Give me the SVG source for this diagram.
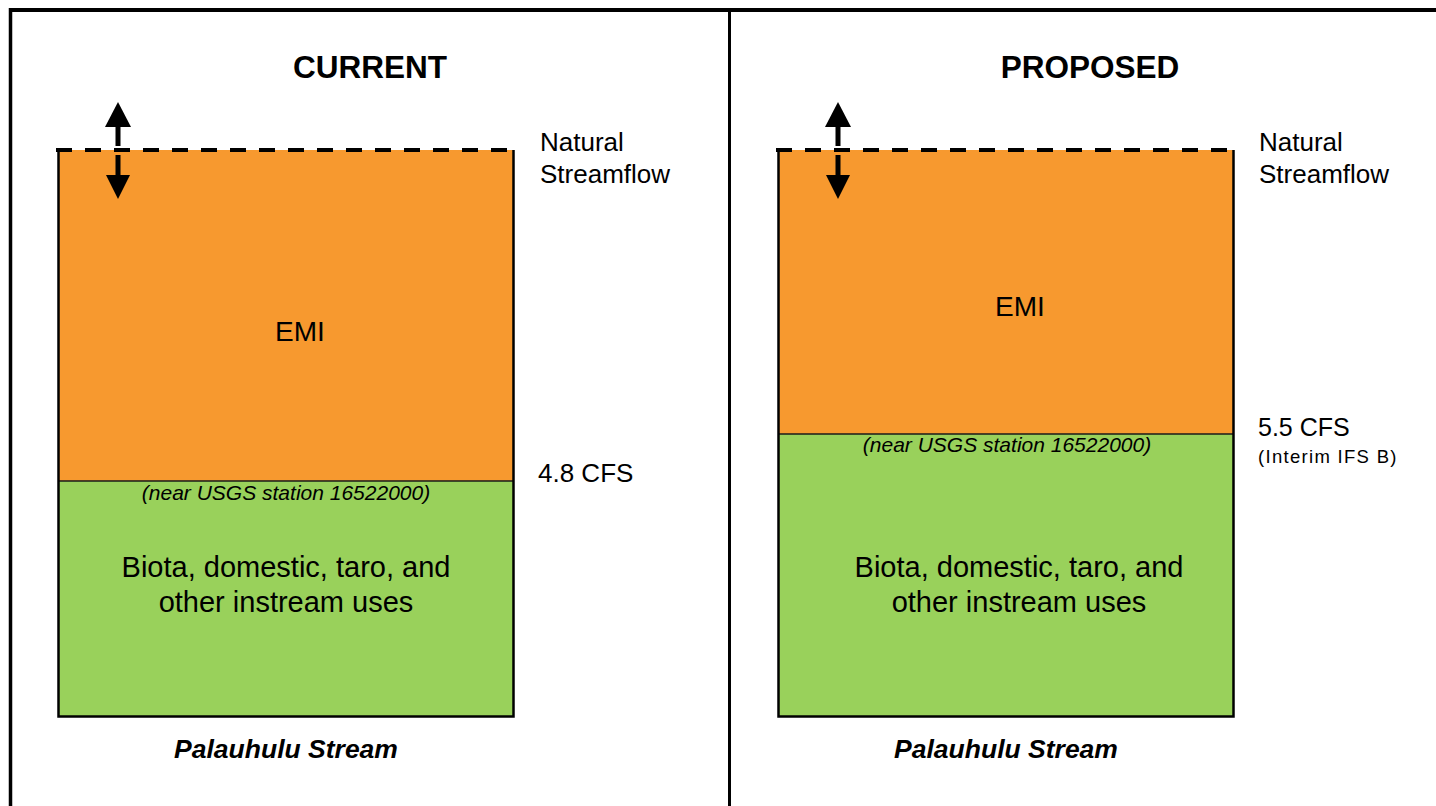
<svg xmlns="http://www.w3.org/2000/svg" width="1436" height="806" viewBox="0 0 1436 806">
<defs>
<style>
text{font-family:"Liberation Sans",Arial,sans-serif;fill:#000}
.title{font-size:31.5px;font-weight:bold;text-anchor:middle}
.lbl{font-size:26px}
.emi{font-size:28px;text-anchor:middle}
.use{font-size:29px;text-anchor:middle}
.near{font-size:21px;font-style:italic;text-anchor:middle}
.small{font-size:18.5px;letter-spacing:1.3px}
.cap{font-size:26.5px;font-weight:bold;font-style:italic;text-anchor:middle}
.orange{fill:#F7992F}
.green{fill:#99D15B}
.edge{fill:none;stroke:#000;stroke-width:2.5}
.split{stroke:#1a1a1a;stroke-width:1.5}
.dash{stroke:#000;stroke-width:4;stroke-dasharray:16 13}
.frame{stroke:#000;fill:none}
</style>
</defs>
<rect width="1436" height="806" fill="#fff"/>
<g id="frame">
<line class="frame" x1="10" y1="10" x2="1436" y2="10" stroke-width="4"/>
<line class="frame" x1="10.5" y1="8" x2="10.5" y2="806" stroke-width="3.5"/>
<line class="frame" x1="729.5" y1="10" x2="729.5" y2="806" stroke-width="3"/>
</g>
<g id="current-panel">
<text class="title" x="370" y="78">CURRENT</text>
<rect class="orange" x="58" y="150" width="456" height="331"/>
<rect class="green" x="58" y="481" width="456" height="236"/>
<line class="split" x1="58" y1="481" x2="514" y2="481"/>
<path class="edge" d="M58.5 150V716.5H513.5V150"/>
<line class="dash" x1="56" y1="150" x2="516" y2="150"/>
<text class="emi" x="300" y="341">EMI</text>
<text class="near" x="286" y="500">(near USGS station 16522000)</text>
<text class="use" x="286" y="577">Biota, domestic, taro, and</text>
<text class="use" x="286" y="612">other instream uses</text>
<text class="lbl" x="540" y="151">Natural</text>
<text class="lbl" x="540" y="183">Streamflow</text>
<text class="lbl" x="538" y="482">4.8 CFS</text>
<text class="cap" x="286" y="758">Palauhulu Stream</text>
</g>
<g id="proposed-panel">
<text class="title" x="1090" y="78">PROPOSED</text>
<rect class="orange" x="778" y="150" width="456" height="284"/>
<rect class="green" x="778" y="434" width="456" height="283"/>
<line class="split" x1="778" y1="434" x2="1234" y2="434"/>
<path class="edge" d="M778.5 150V716.5H1233.5V150"/>
<line class="dash" x1="776" y1="150" x2="1236" y2="150"/>
<text class="emi" x="1020" y="316">EMI</text>
<text class="near" x="1007" y="452">(near USGS station 16522000)</text>
<text class="use" x="1019" y="577">Biota, domestic, taro, and</text>
<text class="use" x="1019" y="612">other instream uses</text>
<text class="lbl" x="1259" y="151">Natural</text>
<text class="lbl" x="1259" y="183">Streamflow</text>
<text class="lbl" x="1258" y="436" style="font-size:25px">5.5 CFS</text>
<text class="small" x="1258" y="463">(Interim IFS B)</text>
<text class="cap" x="1006" y="758">Palauhulu Stream</text>
</g>
<g id="connectors">
<g id="arrows-current">
<rect x="115.5" y="124" width="5" height="22"/>
<polygon points="118,102 105,127 131,127"/>
<rect x="115.5" y="155" width="5" height="21"/>
<polygon points="106,175 130,175 118,199"/>
</g>
<g id="arrows-proposed">
<rect x="835.5" y="124" width="5" height="22"/>
<polygon points="838,102 825,127 851,127"/>
<rect x="835.5" y="155" width="5" height="21"/>
<polygon points="826,175 850,175 838,199"/>
</g>
</g>
</svg>
